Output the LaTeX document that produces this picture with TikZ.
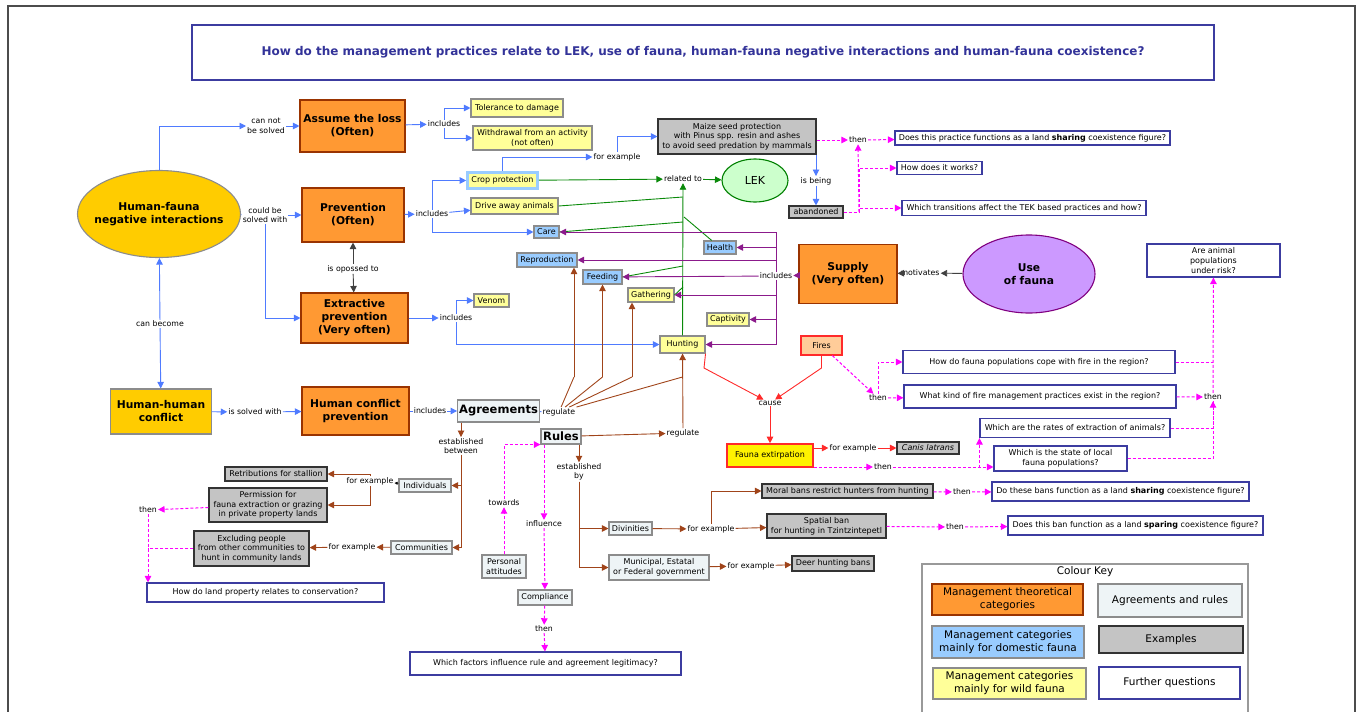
\documentclass[tikz,border=0pt]{standalone}
\usepackage{fontspec}
\setmainfont{DejaVu Sans}
\usepackage{tikz}
\usetikzlibrary{arrows.meta,positioning,shapes.geometric}
\definecolor{mgo}{HTML}{FF9933}
\definecolor{mgob}{HTML}{993300}
\definecolor{gold}{HTML}{FFCC00}
\definecolor{wildf}{HTML}{FFFF99}
\definecolor{domf}{HTML}{99CCFF}
\definecolor{agrf}{HTML}{EEF4F6}
\definecolor{exmf}{HTML}{C4C4C4}
\definecolor{greyb}{HTML}{8C8C8C}
\definecolor{qline}{HTML}{3C3CA0}
\definecolor{ttl}{HTML}{333399}
\definecolor{lekf}{HTML}{CCFFCC}
\definecolor{lekb}{HTML}{008000}
\definecolor{usef}{HTML}{CC99FF}
\definecolor{useb}{HTML}{800080}
\definecolor{firef}{HTML}{FFCC99}
\definecolor{arbl}{HTML}{4F7BFF}
\definecolor{argn}{HTML}{0A8A0A}
\definecolor{arpp}{HTML}{8B1A8B}
\definecolor{arbr}{HTML}{A0441A}
\definecolor{arrd}{HTML}{FF2A2A}
\definecolor{armg}{HTML}{FF00FF}
\newcommand{\ttlf}{\fontsize{12}{14}\selectfont\bfseries}
\newcommand{\bigf}{\fontsize{10.7}{13}\selectfont\bfseries}
\newcommand{\agf}{\fontsize{11.5}{14}\selectfont\bfseries}
\newcommand{\smf}{\fontsize{8}{9.6}\selectfont}
\newcommand{\lbf}{\fontsize{7.8}{9.5}\selectfont}
\newcommand{\qf}{\fontsize{8}{9.6}\selectfont}
\newcommand{\keyf}{\fontsize{10.5}{13}\selectfont}
\tikzset{
  sz/.style 2 args={minimum width=#1pt, minimum height=#2pt},
  cbox/.style={draw, line width=1.1pt, align=center, inner sep=1.5pt},
  mgmt/.style={cbox, fill=mgo, draw=mgob, font=\bigf},
  gbox/.style={cbox, fill=gold, draw=greyb, font=\bigf},
  wild/.style={cbox, fill=wildf, draw=greyb, font=\smf},
  dom/.style={cbox, fill=domf, draw=greyb, font=\smf},
  agr/.style={cbox, fill=agrf, draw=greyb, font=\smf},
  exm/.style={cbox, fill=exmf, draw=black!80, font=\smf},
  qst/.style={cbox, fill=white, draw=qline, font=\qf},
  lbl/.style={fill=white, align=center, inner sep=1pt, font=\lbf},
  pgframe/.style={draw=black!70, line width=1.4pt},
  arr/.style={-{Triangle[length=6.5pt,width=6.5pt]}},
  bl/.style={arr, draw=arbl, line width=0.9pt},
  bln/.style={draw=arbl, line width=0.9pt},
  bk/.style={arr, draw=black!75, line width=0.9pt},
  bks/.style={-{Triangle[length=3pt,width=3pt]}, draw=black, line width=0.6pt},
  gn/.style={arr, draw=argn, line width=0.9pt},
  gnn/.style={draw=argn, line width=0.9pt},
  pp/.style={arr, draw=arpp, line width=0.9pt},
  br/.style={arr, draw=arbr, line width=0.9pt},
  brn/.style={draw=arbr, line width=0.9pt},
  rd/.style={arr, draw=arrd, line width=0.9pt},
  mg/.style={arr, draw=armg, line width=1pt, dash pattern=on 3pt off 2pt},
  mgn/.style={draw=armg, line width=1pt, dash pattern=on 3pt off 2pt},
}

\begin{document}
\begin{tikzpicture}[x=1pt,y=-1pt]
\useasboundingbox (0,0) rectangle (1358,712);
\clip (0,0) rectangle (1358,712);
\draw[pgframe] (8,730) -- (8,6) -- (1355,6) -- (1355,730);

\node[qst, sz={1022}{55}, font=\ttlf, text=ttl] (title) at (703,52.5) {How do the management practices relate to LEK, use of fauna, human-fauna negative interactions and human-fauna coexistence?};

% concepts
\node[ellipse, gbox, inner xsep=-8pt, sz={163}{87}] (hfni) at (159,214) {Human-fauna\\negative interactions};
\node[mgmt, sz={105}{52}] (aloss) at (352.5,126) {Assume the loss\\(Often)};
\node[mgmt, sz={102}{54}] (prev) at (353,215) {Prevention\\(Often)};
\node[mgmt, sz={107}{50}] (extp) at (354.5,318) {Extractive\\prevention\\(Very often)};
\node[gbox, sz={101}{45}] (hhc) at (161,411.5) {Human-human\\conflict};
\node[mgmt, sz={107}{48}] (hcp) at (355.5,411) {Human conflict\\prevention};
\node[mgmt, sz={98}{59}] (supply) at (848,274) {Supply\\(Very often)};
\node[ellipse, cbox, fill=usef, draw=useb, font=\bigf, sz={132}{78}] (use) at (1029,274) {Use\\of fauna};
\node[ellipse, cbox, fill=lekf, draw=lekb, font=\fontsize{11}{13}\selectfont, sz={66}{43}] (lek) at (755,180.5) {LEK};

\node[wild, sz={92}{18}] (tol) at (517,108) {Tolerance to damage};
\node[wild, sz={119}{24}] (wdr) at (532.5,138) {Withdrawal from an activity\\(not often)};
\node[wild, draw=domf, line width=2.6pt, sz={70}{16}] (crop) at (502.5,180.5) {Crop protection};
\node[wild, sz={87}{16}] (drive) at (514.5,206) {Drive away animals};
\node[dom, sz={25}{12}] (care) at (546.5,232) {Care};
\node[dom, sz={32}{13}] (health) at (720,247.5) {Health};
\node[dom, sz={60}{14}] (repro) at (547,260) {Reproduction};
\node[dom, sz={39}{14}] (feed) at (602.5,277) {Feeding};
\node[wild, sz={46}{14}] (gath) at (651,295) {Gathering};
\node[wild, sz={42}{13}] (capt) at (728,319.5) {Captivity};
\node[wild, sz={45}{17}] (hunt) at (682.5,344.5) {Hunting};
\node[wild, sz={35}{13}] (venom) at (491.5,300.5) {Venom};
\node[cbox, fill=firef, draw=arrd, font=\smf, sz={41}{19}] (fires) at (821.5,345.5) {Fires};
\node[cbox, fill=yellow, draw=arrd, line width=1.6pt, font=\smf, sz={86}{23}] (fext) at (770,455.5) {Fauna extirpation};

\node[exm, sz={158}{35}] (maize) at (737,136.5) {Maize seed protection\\with Pinus spp. resin and ashes\\to avoid seed predation by mammals};
\node[exm, sz={54}{12}] (aband) at (816,212) {abandoned};
\node[exm, sz={62}{12}] (canis) at (928,448) {\textit{Canis latrans}};
\node[exm, sz={102}{14}] (retrib) at (276,474) {Retributions for stallion};
\node[exm, sz={118}{34}] (perm) at (268,505) {Permission for\\fauna extraction or grazing\\in private property lands};
\node[exm, sz={115}{35}] (excl) at (251.5,548.5) {Excluding people\\from other communities to\\hunt in community lands};
\node[exm, sz={171}{14}] (moral) at (847.5,491) {Moral bans restrict hunters from hunting};
\node[exm, sz={119}{24}] (spatial) at (826.5,526) {Spatial ban\\for hunting in Tzintzintepetl};
\node[exm, sz={82}{15}] (deer) at (833,563.5) {Deer hunting bans};

\node[agr, font=\agf, sz={79}{22}] (agr) at (498.5,411) {Agreements};
\node[agr, font=\agf, sz={40}{15}] (rules) at (561,436.5) {Rules};
\node[agr, sz={52}{13}] (indiv) at (425,485.5) {Individuals};
\node[agr, sz={61}{13}] (comm) at (421.5,547.5) {Communities};
\node[agr, sz={43}{13}] (div) at (630.5,528.5) {Divinities};
\node[agr, sz={100}{25}] (muni) at (659,567.5) {Municipal, Estatal\\or Federal government};
\node[agr, sz={44}{23}] (pers) at (504,566.5) {Personal\\attitudes};
\node[agr, sz={54}{15}] (compl) at (545,597.5) {Compliance};

% further questions
\node[qst, sz={275}{14}] (q1) at (1032.5,138) {Does this practice functions as a land \textbf{sharing} coexistence figure?};
\node[qst, sz={85}{13}] (qw) at (939.5,168) {How does it works?};
\node[qst, sz={244}{15}] (qt) at (1024,208) {Which transitions affect the TEK based practices and how?};
\node[qst, sz={133}{33}] (risk) at (1213.5,260.5) {Are animal\\populations\\under risk?};
\node[qst, sz={272}{23}] (cope) at (1039,362) {How do fauna populations cope with fire in the region?};
\node[qst, sz={272}{23}] (fmgmt) at (1040,396.5) {What kind of fire management practices exist in the region?};
\node[qst, sz={190}{19}] (rates) at (1075,428) {Which are the rates of extraction of animals?};
\node[qst, sz={133}{25}] (state) at (1060.5,458.5) {Which is the state of local\\fauna populations?};
\node[qst, sz={257}{19}] (qs2) at (1120.5,491.5) {Do these bans function as a land \textbf{sharing} coexistence figure?};
\node[qst, sz={255}{19}] (qsp) at (1135.5,525.5) {Does this ban function as a land \textbf{sparing} coexistence figure?};
\node[qst, sz={237}{19}] (qland) at (265.5,592.5) {How do land property relates to conservation?};
\node[qst, sz={271}{23}] (qlegit) at (545.5,663.5) {Which factors influence rule and agreement legitimacy?};

% linking phrases
\node[lbl] (cns) at (266,126) {can not\\be solved};
\node[lbl] (cbs) at (265,215) {could be\\solved with};
\node[lbl] (opp) at (353,269) {is opossed to};
\node[lbl] (cbe) at (160,324) {can become};
\node[lbl] (isw) at (255,412) {is solved with};
\node[lbl] (inc1) at (444,124) {includes};
\node[lbl] (inc2) at (432,214) {includes};
\node[lbl] (inc3) at (776,276) {includes};
\node[lbl] (inc4) at (430,411) {includes};
\node[lbl] (inc5) at (456,318) {includes};
\node[lbl] (fex1) at (617,157) {for example};
\node[lbl] (rel) at (683,179) {related to};
\node[lbl] (isb) at (816,181) {is being};
\node[lbl] (mot) at (920,273) {motivates};
\node[lbl] (then1) at (858,140) {then};
\node[lbl] (cause) at (770,403) {cause};
\node[lbl] (fex5) at (853,448) {for example};
\node[lbl] (then4) at (878,398) {then};
\node[lbl] (then5) at (883,467) {then};
\node[lbl] (then6) at (1213,397) {then};
\node[lbl] (reg1) at (559,412) {regulate};
\node[lbl] (reg2) at (683,433) {regulate};
\node[lbl] (estb) at (461,446) {established\\between};
\node[lbl] (estby) at (579,472) {established\\by};
\node[lbl] (fex6) at (370,481) {for example};
\node[lbl] (fex7) at (352,547) {for example};
\node[lbl] (fex8) at (711,529) {for example};
\node[lbl] (fex9) at (751,566) {for example};
\node[lbl] (then7) at (148,510) {then};
\node[lbl] (then8) at (962,492) {then};
\node[lbl] (then9) at (955,527) {then};
\node[lbl] (then10) at (544,629) {then};
\node[lbl] (tow) at (504,503) {towards};
\node[lbl] (infl) at (544,524) {influence};

% junction points
\coordinate (gdr) at (683,197);
\coordinate (gca) at (683,222);
\coordinate (ghe) at (684,217);
\coordinate (gfe) at (683,266);
\coordinate (gga) at (683,287);
\coordinate (rr) at (574,377);
\coordinate (rf) at (602.5,377);
\coordinate (rg) at (632,377);
\coordinate (rh) at (682.5,377);
\coordinate (ab) at (859,212);
\coordinate (hb) at (704,368);
\coordinate (fb) at (821.5,368);

% connectors
\draw[bl] (hfni.north) |- (cns.west);
\draw[bl] (cns) -- (aloss);
\draw[bln] (hfni) -- (cbs);
\draw[bl] (cbs) -- (prev);
\draw[bl] (cbs.south) |- (extp.west);
\draw[bk] (opp) -- (prev);
\draw[bk] (opp) -- (extp);
\draw[bl] (cbe) -- (hfni);
\draw[bl] (cbe) -- (hhc);
\draw[bl] (hhc) -- (isw);
\draw[bl] (isw) -- (hcp);
\draw[bln] (hcp) -- (inc4);
\draw[bl] (inc4) -- (agr);

\draw[bl] (aloss) -- (inc1);
\draw[bl] (inc1) |- (tol);
\draw[bl] (inc1) |- (wdr);
\draw[bl] (prev) -- (inc2);
\draw[bl] (inc2) |- (crop);
\draw[bl] (inc2) -- (drive);
\draw[bl] (inc2) |- (care);
\draw[bl] (extp) -- (inc5);
\draw[bl] (inc5) |- (venom);
\draw[bl] (inc5) |- (hunt);

\draw[bl] (crop.north) |- (fex1.west);
\draw[bl] (fex1) |- (maize.west);
\draw[bl] (isb |- maize.south) -- (isb);
\draw[bl] (isb) -- (aband);

\draw[gn] (crop) -- (rel);
\draw[gn] (rel) -- (lek);
\draw[gn] (hunt) -- (rel);
\draw[gnn] (drive.east) -- (gdr);
\draw[gnn] (care.east) -- (gca);
\draw[gnn] (health) -- (ghe);
\draw[gnn] (feed.east) -- (gfe);
\draw[gnn] (gath.east) -- (gga);

\draw[bk] (use) -- (mot);
\draw[bk] (mot) -- (supply);
\draw[pp] (supply) -- (inc3);
\draw[pp] (inc3) |- (care);
\draw[pp] (inc3) |- (health);
\draw[pp] (inc3) |- (repro);
\draw[pp] (inc3) -- (feed);
\draw[pp] (inc3) |- (gath);
\draw[pp] (inc3) |- (capt);
\draw[pp] (inc3) |- (hunt);

\draw[rd] (hunt.south east) -- (hb) -- (cause);
\draw[rd] (fires) -- (fb) -- (cause);
\draw[rd] (cause) -- (fext);
\draw[rd] (fext.east |- fex5) -- (fex5);
\draw[rd] (fex5) -- (canis);

\draw[mg] (maize.east |- then1) -- (then1);
\draw[mg] (then1) -- (q1);
\draw[mgn] (aband) -- (ab);
\draw[mg] (ab) -- (then1);
\draw[mg] (ab) |- (qw);
\draw[mg] (ab) |- (qt);

\draw[mg] (fires) -- (then4);
\draw[mg] (then4) -- (fmgmt);
\draw[mg] (then4) |- (cope);
\draw[mg] (fext.east |- then5) -- (then5);
\draw[mg] (then5) -| (rates.south west);
\draw[mg] (then5) -- (state.west |- then5);
\draw[mg] (fmgmt) -- (then6);
\draw[mg] (rates) -| (then6);
\draw[mgn] (state) -| (then6);
\draw[mgn] (cope.east) -- (cope.east -| then6);
\draw[mg] (then6) -- (risk);

\draw[bln] (agr) -- (reg1);
\draw[brn] (reg1) -- (rr);
\draw[brn] (reg1) -- (rf);
\draw[brn] (reg1) -- (rg);
\draw[brn] (reg1) -- (rh);
\draw[br] (rr) -- (rr |- repro.south);
\draw[br] (rf) -- (feed);
\draw[br] (rg) -- (rg |- gath.south);
\draw[br] (rules) -- (reg2);
\draw[br] (reg2) -- (hunt);

\draw[br] (estb |- agr.south) -- (estb);
\draw[br] (estb) |- (indiv);
\draw[br] (estb) |- (comm);
\draw[bks] (indiv) -- (fex6);
\draw[br] (fex6) |- (retrib);
\draw[br] (fex6) |- (perm);
\draw[br] (comm) -- (fex7);
\draw[br] (fex7) -- (excl);
\draw[mg] (perm) -- (then7);
\draw[mgn] (excl.west) -- (excl.west -| then7);
\draw[mg] (then7) -- (then7 |- qland.north);

\draw[br] (estby |- rules.south) -- (estby);
\draw[br] (estby) |- (div);
\draw[br] (estby) |- (muni);
\draw[br] (div) -- (fex8);
\draw[br] (fex8) -- (spatial);
\draw[br] (fex8) |- (moral);
\draw[br] (muni) -- (fex9);
\draw[br] (fex9) -- (deer);
\draw[mg] (moral) -- (then8);
\draw[mg] (then8) -- (qs2);
\draw[mg] (spatial) -- (then9);
\draw[mg] (then9) -- (qsp);

\draw[mg] (pers) -- (tow);
\draw[mg] (tow) |- (rules.south west);
\draw[mg] (infl |- rules.south) -- (infl);
\draw[mg] (infl) -- (compl);
\draw[mg] (compl) -- (then10);
\draw[mg] (then10) -- (qlegit);

% colour key
\node[draw=black!40, line width=1.2pt, sz={326}{160}] (key) at (1085,644) {};
\node[font=\keyf] (keyt) at (1085,572) {Colour Key};
\node[mgmt, font=\keyf, sz={151}{31}] (k1) at (1007.5,599.5) {Management theoretical\\categories};
\node[agr, font=\keyf, sz={144}{33}] (k2) at (1170,600.5) {Agreements and rules};
\node[dom, font=\keyf, sz={152}{32}] (k3) at (1008,642) {Management categories\\mainly for domestic fauna};
\node[exm, font=\keyf, sz={144}{27}] (k4) at (1171,639.5) {Examples};
\node[wild, font=\keyf, sz={153}{31}] (k5) at (1009.5,683.5) {Management categories\\mainly for wild fauna};
\node[qst, font=\keyf, sz={141}{32}] (k6) at (1169.5,683) {Further questions};
\end{tikzpicture}
\end{document}
